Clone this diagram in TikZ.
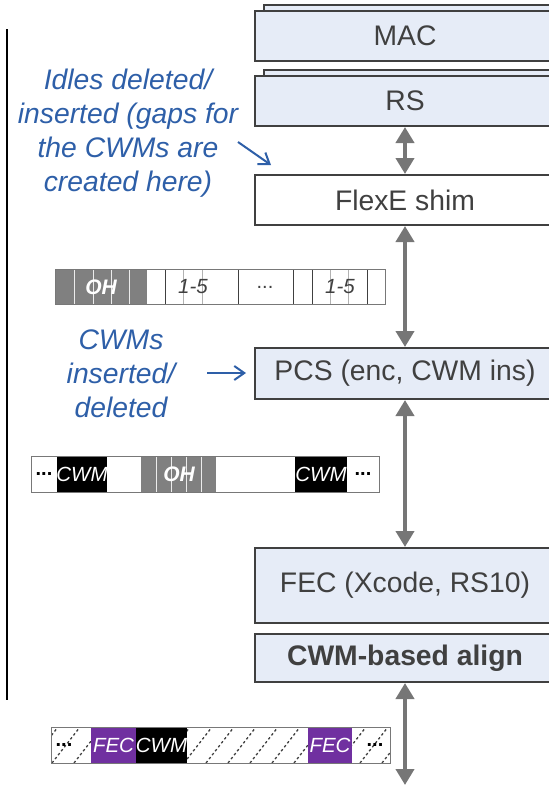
\documentclass[tikz,border=0pt]{standalone}
\usepackage{fontspec}
\setmainfont{Liberation Sans}
\usetikzlibrary{arrows.meta}
\definecolor{boxfill}{RGB}{230,236,247}
\definecolor{boxline}{RGB}{64,64,64}
\definecolor{boxtext}{RGB}{64,64,64}
\definecolor{arrowgray}{RGB}{118,118,118}
\definecolor{noteblue}{RGB}{46,95,168}
\definecolor{ohgray}{RGB}{128,128,128}
\definecolor{fecpurple}{RGB}{112,48,160}
\definecolor{framegray}{RGB}{120,120,120}

\tikzset{
  layer/.style={draw=boxline, line width=2pt, fill=boxfill, minimum width=300pt,
    inner sep=0pt, text=boxtext, font=\fontsize{28.3}{34}\selectfont},
  dbl/.style={draw=arrowgray, line width=4pt,
    {Triangle[width=18pt,length=16pt]}-{Triangle[width=18pt,length=16pt]}},
  notearrow/.style={draw=noteblue, line width=2pt, -{Straight Barb[length=10pt,width=14pt]}},
  note/.style={text=noteblue, align=center, inner sep=0pt,
    font=\fontsize{28.3}{34}\selectfont\itshape},
  barframe/.style={draw=framegray, line width=1pt},
  slotline/.style={draw=boxline, line width=1pt},
  thinslot/.style={draw=gray!60, line width=0.8pt},
  ohsep/.style={draw=white!85!gray, line width=0.8pt},
  bartext/.style={inner sep=0pt, font=\fontsize{20.5}{24}\selectfont\itshape},
  hatch/.style={draw=gray!50!black, line width=1.3pt, dash pattern=on 2.5pt off 2.5pt}
}

\begin{document}
\begin{tikzpicture}[x=1pt, y=-1pt]
\useasboundingbox (0,0) rectangle (549,785);
\clip (0,0) rectangle (549,785);

% left margin rule
\draw[line width=2.2pt] (7,29) -- (7,700);

% protocol stack, stacked layers first
\node[layer, minimum height=50pt] (macback) at (414,30) {};
\node[layer, minimum height=50pt] (mac) at (405,36) {MAC};
\node[layer, minimum height=50pt] (rsback) at (414,95) {};
\node[layer, minimum height=50pt] (rs) at (405,101) {RS};
\node[layer, minimum height=50pt, fill=white] (flexe) at (405,200) {FlexE shim};
\node[layer, minimum height=51pt] (pcs) at (405,373.5) {PCS (enc, CWM ins)};
\node[layer, minimum height=75pt] (fec) at (405,585.5) {FEC (Xcode, RS10)};
\node[layer, minimum height=48pt, font=\fontsize{28.3}{34}\selectfont\bfseries] (align) at (405,658) {CWM-based align};
\coordinate (below) at (405,785);

% links between layers
\draw[dbl] (rs.south) -- (flexe.north);
\draw[dbl] (flexe.south) -- (pcs.north);
\draw[dbl] (pcs.south) -- (fec.north);
\draw[dbl] (align.south) -- (below);

% notes
\node[note] (idles) at (128,133) {Idles deleted/\\inserted (gaps for\\the CWMs are\\created here)};
\coordinate (idlesfrom) at (238,142);
\coordinate (idlesto) at (271,165);
\draw[notearrow] (idlesfrom) -- (idlesto);

\node[note] (cwmnote) at (121,374) {CWMs\\inserted/\\deleted};
\coordinate (cwmfrom) at (207,373);
\coordinate (cwmto) at (246,373);
\draw[notearrow] (cwmfrom) -- (cwmto);

% bar 1: FlexE overhead and calendar slots
\fill[ohgray] (55,269) rectangle (147,304);
\foreach \x in {74,93,111,129} \draw[ohsep] (\x,269) -- (\x,304);
\foreach \x in {183,202,330,348} \draw[thinslot] (\x,269) -- (\x,304);
\foreach \x in {165,238,293,312,367} \draw[slotline] (\x,269) -- (\x,304);
\draw[barframe] (55,269) rectangle (385,304);
\node[bartext, text=white, font=\fontsize{21}{24}\selectfont\itshape\bfseries] (oh1) at (101,287) {OH};
\node[bartext, text=boxtext] (slotsa) at (193,287) {1-5};
\node[bartext, text=boxtext, font=\fontsize{20}{24}\selectfont] (dotsa) at (265,287) {...};
\node[bartext, text=boxtext] (slotsb) at (340,287) {1-5};

% bar 2: after PCS with codeword markers
\fill[black] (57,456) rectangle (107,492);
\fill[ohgray] (141,456) rectangle (216,492);
\foreach \x in {156,171,186,201} \draw[ohsep] (\x,456) -- (\x,492);
\fill[black] (295,456) rectangle (347,492);
\draw[barframe] (31,456) rectangle (379,492);
\node[bartext, font=\fontsize{20}{24}\selectfont\bfseries] (dotsb) at (44,474) {...};
\node[bartext, text=white] (cwmb1) at (82,474) {CWM};
\node[bartext, text=white, font=\fontsize{21}{24}\selectfont\itshape\bfseries] (oh2) at (179,474) {OH};
\node[bartext, text=white] (cwmb2) at (321,474) {CWM};
\node[bartext, font=\fontsize{20}{24}\selectfont\bfseries] (dotsc) at (363,474) {...};

% bar 3: FEC codewords over scrambled data
\begin{scope}
  \clip (51,727) rectangle (390,763);
  \foreach \x in {30,52,...,400} \draw[hatch] (\x,763) -- (\x+28,727);
\end{scope}
\fill[fecpurple] (91,727) rectangle (136,763);
\fill[black] (136,727) rectangle (187,763);
\fill[fecpurple] (308,727) rectangle (352,763);
\draw[barframe] (51,727) rectangle (390,763);
\node[bartext, font=\fontsize{20}{24}\selectfont\bfseries] (dotsd) at (64,745) {...};
\node[bartext, text=white] (fec1) at (113.5,745) {FEC};
\node[bartext, text=white] (cwmc) at (161.5,745) {CWM};
\node[bartext, text=white] (fec2) at (330,745) {FEC};
\node[bartext, font=\fontsize{20}{24}\selectfont\bfseries] (dotse) at (375,745) {...};
\end{tikzpicture}
\end{document}
